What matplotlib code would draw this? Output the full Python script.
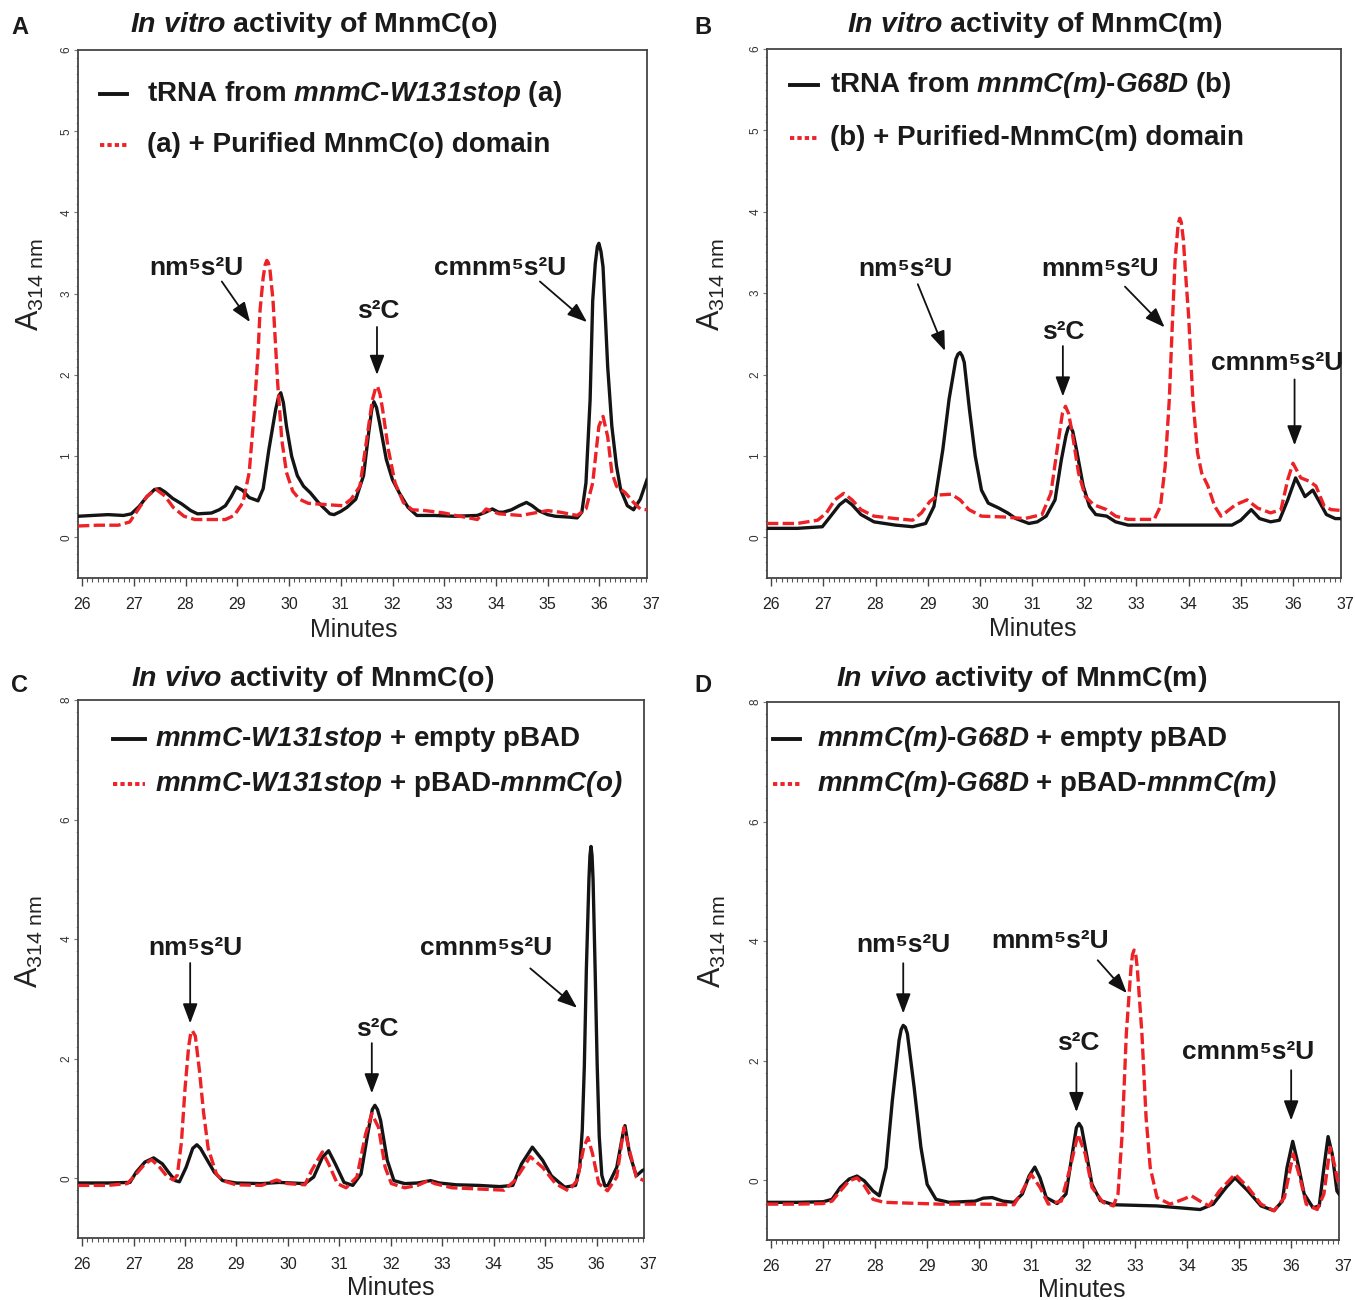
import matplotlib
matplotlib.use("Agg")
import matplotlib.pyplot as plt
import matplotlib.transforms as mtransforms
from matplotlib.lines import Line2D
from matplotlib.ticker import MultipleLocator

# ==============================================================
# Data: (minutes, A314) pairs
# ==============================================================
A_BLACK = [(25.92, 0.26), (26.2, 0.27), (26.5, 0.28), (26.8, 0.27), (26.95, 0.29), (27.1, 0.38),
           (27.25, 0.5), (27.4, 0.59), (27.5, 0.6), (27.6, 0.56), (27.75, 0.48), (27.93, 0.41),
           (28.1, 0.33), (28.23, 0.29), (28.5, 0.3), (28.65, 0.34), (28.77, 0.39), (28.88, 0.5),
           (28.98, 0.62), (29.1, 0.58), (29.23, 0.49), (29.4, 0.45), (29.5, 0.6), (29.61, 1.08),
           (29.74, 1.57), (29.8, 1.74), (29.84, 1.78), (29.89, 1.66), (29.95, 1.37), (30.05, 1.0),
           (30.16, 0.76), (30.28, 0.63), (30.41, 0.55), (30.58, 0.42), (30.79, 0.29), (30.87, 0.28),
           (31.0, 0.32), (31.12, 0.37), (31.29, 0.47), (31.44, 0.76), (31.54, 1.29), (31.6, 1.58),
           (31.64, 1.67), (31.69, 1.6), (31.75, 1.41), (31.88, 0.96), (32.0, 0.71), (32.13, 0.55),
           (32.3, 0.37), (32.47, 0.27), (32.8, 0.27), (33.2, 0.26), (33.64, 0.27), (33.8, 0.31),
           (33.93, 0.35), (34.05, 0.31), (34.14, 0.31), (34.3, 0.34), (34.45, 0.39), (34.59, 0.43),
           (34.7, 0.39), (34.82, 0.33), (35.0, 0.28), (35.15, 0.26), (35.4, 0.25), (35.57, 0.24),
           (35.66, 0.31), (35.74, 0.67), (35.82, 1.69), (35.87, 2.91), (35.92, 3.37), (35.96, 3.58),
           (35.99, 3.62), (36.03, 3.52), (36.07, 3.33), (36.16, 2.1), (36.24, 1.37), (36.33, 0.88),
           (36.41, 0.59), (36.54, 0.39), (36.66, 0.34), (36.79, 0.47), (36.92, 0.71)]

A_RED = [(25.92, 0.14), (26.3, 0.15), (26.7, 0.15), (26.92, 0.19), (27.09, 0.35), (27.26, 0.51),
         (27.43, 0.59), (27.6, 0.51), (27.76, 0.37), (27.97, 0.26), (28.18, 0.22), (28.5, 0.22),
         (28.77, 0.22), (28.94, 0.27), (29.11, 0.43), (29.23, 0.8), (29.32, 1.49), (29.4, 2.27),
         (29.44, 2.8), (29.5, 3.2), (29.54, 3.36), (29.57, 3.41), (29.6, 3.38), (29.63, 3.3),
         (29.69, 2.92), (29.78, 1.9), (29.86, 1.2), (29.95, 0.8), (30.07, 0.57), (30.2, 0.47),
         (30.37, 0.42), (30.79, 0.4), (31.04, 0.39), (31.2, 0.47), (31.37, 0.63), (31.5, 1.2),
         (31.61, 1.69), (31.67, 1.83), (31.71, 1.86), (31.76, 1.76), (31.81, 1.57), (31.92, 1.08),
         (32.05, 0.67), (32.21, 0.43), (32.38, 0.34), (32.63, 0.33), (33.0, 0.3), (33.22, 0.27),
         (33.64, 0.22), (33.81, 0.35), (34.06, 0.29), (34.48, 0.27), (35.0, 0.33), (35.24, 0.31),
         (35.57, 0.27), (35.74, 0.35), (35.87, 0.67), (35.99, 1.37), (36.07, 1.49), (36.16, 1.24),
         (36.24, 0.8), (36.33, 0.63), (36.5, 0.55), (36.66, 0.43), (36.79, 0.35), (36.92, 0.34)]

B_BLACK = [(25.92, 0.11), (26.5, 0.11), (26.98, 0.13), (27.14, 0.26), (27.31, 0.4), (27.43, 0.46),
           (27.55, 0.4), (27.72, 0.28), (27.97, 0.19), (28.38, 0.15), (28.71, 0.13), (28.96, 0.17),
           (29.12, 0.38), (29.29, 1.08), (29.41, 1.7), (29.54, 2.19), (29.58, 2.25), (29.62, 2.27),
           (29.66, 2.23), (29.7, 2.15), (29.8, 1.57), (29.91, 1.0), (30.03, 0.58), (30.16, 0.42),
           (30.36, 0.36), (30.53, 0.3), (30.69, 0.23), (30.94, 0.17), (31.1, 0.19), (31.27, 0.26),
           (31.44, 0.46), (31.56, 0.95), (31.65, 1.25), (31.69, 1.34), (31.73, 1.37), (31.78, 1.3),
           (31.85, 1.08), (31.98, 0.63), (32.1, 0.38), (32.22, 0.28), (32.43, 0.26), (32.6, 0.19),
           (32.84, 0.15), (33.5, 0.15), (34.2, 0.15), (34.83, 0.15), (35.0, 0.21), (35.2, 0.34),
           (35.36, 0.23), (35.57, 0.19), (35.74, 0.21), (35.9, 0.46), (36.05, 0.73), (36.23, 0.5),
           (36.38, 0.58), (36.52, 0.42), (36.64, 0.28), (36.81, 0.23), (36.92, 0.23)]

B_RED = [(25.92, 0.17), (26.5, 0.17), (26.89, 0.21), (27.06, 0.3), (27.22, 0.46), (27.39, 0.54),
         (27.55, 0.46), (27.72, 0.34), (27.97, 0.26), (28.38, 0.23), (28.71, 0.21), (28.88, 0.3),
         (29.04, 0.44), (29.21, 0.52), (29.45, 0.53), (29.62, 0.46), (29.79, 0.34), (30.03, 0.26),
         (30.45, 0.25), (30.86, 0.23), (31.19, 0.28), (31.36, 0.54), (31.48, 1.08), (31.58, 1.52),
         (31.64, 1.61), (31.7, 1.52), (31.77, 1.28), (31.89, 0.79), (32.02, 0.5), (32.18, 0.4),
         (32.43, 0.34), (32.6, 0.26), (32.84, 0.22), (33.34, 0.22), (33.46, 0.38), (33.55, 0.87),
         (33.63, 1.7), (33.68, 2.5), (33.74, 3.4), (33.8, 3.85), (33.83, 3.92), (33.86, 3.87),
         (33.9, 3.65), (33.94, 3.25), (34.0, 2.72), (34.08, 1.7), (34.17, 1.04), (34.25, 0.79),
         (34.37, 0.63), (34.5, 0.38), (34.62, 0.26), (34.74, 0.32), (34.9, 0.4), (35.12, 0.46),
         (35.32, 0.36), (35.57, 0.3), (35.77, 0.34), (35.9, 0.71), (36.0, 0.91), (36.15, 0.73),
         (36.31, 0.69), (36.44, 0.63), (36.6, 0.38), (36.73, 0.34), (36.92, 0.33)]

C_BLACK = [(25.92, -0.08), (26.5, -0.08), (26.93, -0.07), (27.05, 0.1), (27.22, 0.27), (27.39, 0.34),
           (27.56, 0.24), (27.68, 0.1), (27.81, -0.04), (27.89, -0.06), (28.02, 0.18), (28.15, 0.5),
           (28.23, 0.56), (28.3, 0.5), (28.4, 0.35), (28.57, 0.1), (28.73, -0.04), (28.99, -0.08),
           (29.49, -0.09), (29.83, -0.07), (30.33, -0.09), (30.5, 0.02), (30.67, 0.35), (30.79, 0.46),
           (30.92, 0.24), (31.09, -0.07), (31.26, -0.12), (31.42, 0.07), (31.55, 0.74), (31.64, 1.15),
           (31.69, 1.22), (31.74, 1.15), (31.8, 0.97), (31.93, 0.3), (32.06, -0.04), (32.27, -0.09),
           (32.52, -0.08), (32.77, -0.04), (32.94, -0.08), (33.27, -0.11), (33.7, -0.12), (34.12, -0.14),
           (34.37, -0.12), (34.54, 0.24), (34.75, 0.52), (34.95, 0.3), (35.12, 0.04), (35.38, -0.15),
           (35.59, -0.12), (35.67, 0.18), (35.72, 0.8), (35.76, 1.86), (35.8, 3.5), (35.85, 5.0),
           (35.87, 5.4), (35.89, 5.55), (35.91, 5.4), (35.93, 5.0), (35.97, 3.5), (36.01, 1.9),
           (36.05, 0.7), (36.1, 0.05), (36.16, -0.13), (36.22, -0.12), (36.39, 0.18), (36.51, 0.74),
           (36.55, 0.88), (36.64, 0.41), (36.77, 0.04), (36.89, 0.13), (36.92, 0.14)]

C_RED = [(25.92, -0.12), (26.5, -0.12), (26.88, -0.09), (27.05, 0.07), (27.22, 0.24), (27.35, 0.31),
         (27.51, 0.18), (27.64, 0.04), (27.77, -0.03), (27.85, 0.05), (27.93, 0.6), (28.0, 1.5),
         (28.07, 2.2), (28.11, 2.42), (28.14, 2.47), (28.2, 2.38), (28.28, 1.8), (28.36, 1.1),
         (28.45, 0.5), (28.61, 0.07), (28.73, -0.04), (28.99, -0.11), (29.49, -0.12), (29.78, -0.03),
         (29.99, -0.09), (30.33, -0.11), (30.46, 0.13), (30.67, 0.44), (30.79, 0.24), (30.96, -0.09),
         (31.13, -0.16), (31.34, 0.02), (31.51, 0.74), (31.63, 1.08), (31.76, 0.85), (31.89, 0.18),
         (32.01, -0.09), (32.27, -0.16), (32.52, -0.12), (32.73, -0.04), (32.85, -0.09), (33.19, -0.16),
         (33.7, -0.18), (34.2, -0.2), (34.41, -0.04), (34.71, 0.36), (34.95, 0.18), (35.2, -0.09),
         (35.45, -0.21), (35.62, -0.04), (35.75, 0.52), (35.83, 0.68), (35.92, 0.41), (36.04, -0.09),
         (36.21, -0.21), (36.39, 0.02), (36.53, 0.85), (36.64, 0.46), (36.77, 0.02), (36.92, -0.04)]

D_BLACK = [(25.92, -0.37), (26.5, -0.37), (27.0, -0.36), (27.17, -0.32), (27.33, -0.12), (27.5, 0.02),
           (27.65, 0.07), (27.79, -0.01), (27.96, -0.18), (28.08, -0.26), (28.21, 0.21), (28.33, 1.33),
           (28.46, 2.34), (28.5, 2.52), (28.54, 2.59), (28.58, 2.56), (28.62, 2.45), (28.75, 1.55),
           (28.88, 0.55), (29.0, -0.07), (29.17, -0.32), (29.42, -0.37), (29.92, -0.35), (30.08, -0.3),
           (30.25, -0.29), (30.46, -0.35), (30.67, -0.37), (30.83, -0.23), (30.96, 0.07), (31.07, 0.22),
           (31.17, 0.04), (31.29, -0.29), (31.5, -0.39), (31.67, -0.23), (31.79, 0.44), (31.87, 0.88),
           (31.92, 0.95), (31.97, 0.88), (32.04, 0.55), (32.17, -0.07), (32.33, -0.34), (32.58, -0.41),
           (33.42, -0.43), (34.25, -0.49), (34.5, -0.4), (34.75, -0.12), (34.92, 0.04), (35.17, -0.18),
           (35.42, -0.43), (35.67, -0.51), (35.83, -0.35), (35.92, 0.21), (36.03, 0.65), (36.12, 0.32),
           (36.25, -0.23), (36.42, -0.46), (36.54, -0.43), (36.63, 0.21), (36.71, 0.73), (36.79, 0.44),
           (36.88, -0.18), (36.92, -0.23)]

D_RED = [(25.92, -0.4), (26.5, -0.4), (27.0, -0.39), (27.17, -0.35), (27.33, -0.18), (27.5, -0.01),
         (27.65, 0.04), (27.79, -0.09), (27.96, -0.32), (28.17, -0.37), (29.25, -0.4), (30.08, -0.4),
         (30.67, -0.41), (30.83, -0.18), (31.0, 0.1), (31.17, -0.12), (31.33, -0.4), (31.58, -0.35),
         (31.75, 0.21), (31.9, 0.77), (32.04, 0.44), (32.17, -0.12), (32.38, -0.37), (32.58, -0.43),
         (32.67, -0.23), (32.75, 0.77), (32.83, 2.45), (32.92, 3.56), (32.95, 3.78), (32.98, 3.85),
         (33.01, 3.78), (33.04, 3.56), (33.13, 2.45), (33.21, 1.05), (33.29, 0.21), (33.42, -0.29),
         (33.67, -0.4), (33.92, -0.32), (34.08, -0.26), (34.25, -0.35), (34.42, -0.43), (34.62, -0.18),
         (34.92, 0.1), (35.17, -0.12), (35.42, -0.4), (35.67, -0.51), (35.87, -0.29), (36.04, 0.44),
         (36.17, 0.04), (36.29, -0.4), (36.5, -0.49), (36.63, -0.23), (36.75, 0.55), (36.83, 0.27),
         (36.92, -0.12)]

# ==============================================================
# Text
# ==============================================================
NM = "nm\u2075s\u00b2U"
MNM = "m" + NM
CMNM = "cm" + NM
S2C = "s\u00b2C"

TITLES = [r"$\mathbfit{In\ vitro}$ activity of MnmC(o)",
          r"$\mathbfit{In\ vitro}$ activity of MnmC(m)",
          r"$\mathbfit{In\ vivo}$ activity of MnmC(o)",
          r"$\mathbfit{In\ vivo}$ activity of MnmC(m)"]

LEGENDS = [(r"tRNA from $\mathbfit{mnmC}$-$\mathbfit{W131stop}$ (a)",
            "(a) + Purified MnmC(o) domain"),
           (r"tRNA from $\mathbfit{mnmC(m)}$-$\mathbfit{G68D}$ (b)",
            "(b) + Purified-MnmC(m) domain"),
           (r"$\mathbfit{mnmC}$-$\mathbfit{W131stop}$ + empty pBAD",
            r"$\mathbfit{mnmC}$-$\mathbfit{W131stop}$ + pBAD-$\mathbfit{mnmC(o)}$"),
           (r"$\mathbfit{mnmC(m)}$-$\mathbfit{G68D}$ + empty pBAD",
            r"$\mathbfit{mnmC(m)}$-$\mathbfit{G68D}$ + pBAD-$\mathbfit{mnmC(m)}$")]

LETTERS = ["A", "B", "C", "D"]

# ==============================================================
# Layout (pixels, top-left origin)
# ==============================================================
W, H = 1355, 1300
RED = "#ec2227"
BLACK = "#141414"
FONT = "Liberation Sans"

plt.rcParams["font.family"] = [FONT, "DejaVu Sans"]
plt.rcParams["mathtext.fontset"] = "custom"
plt.rcParams["mathtext.rm"] = FONT
plt.rcParams["mathtext.it"] = FONT + ":italic"
plt.rcParams["mathtext.bf"] = FONT + ":bold"
plt.rcParams["mathtext.bfit"] = FONT + ":italic:bold"

# axes box: left, top, right, bottom
BOXES = [(78, 50, 647, 578), (767, 49, 1341, 578), (78, 700, 644, 1238), (767, 702, 1339, 1240)]
TITLE_POS = [(314, 25), (1035, 25), (313, 679), (1022, 679)]
LETTER_POS = [(20, 27), (703, 27), (20, 686), (703, 686)]
# handle x0, x1, text x, row y's
LEG_POS = [(100, 127, 147, 94, 145), (790, 818, 830, 85, 138),
           (113, 145, 155, 739, 784), (773, 800, 817, 739, 784)]
XLABEL_POS = [(0.485, -0.098), (0.463, -0.097), (0.553, -0.093), (0.551, -0.093)]
YLABEL_POS = [(-0.084, 0.555), (-0.096, 0.554), (-0.085, 0.55), (-0.096, 0.554)]

# peak labels: text, text position, arrow tail, arrow head (data coords)
ANNOTS = [
    [(NM, (28.20, 3.32), (28.70, 3.15), (29.245, 2.65)),
     (S2C, (31.72, 2.79), (31.70, 2.59), (31.70, 2.0)),
     (CMNM, (34.08, 3.32), (34.85, 3.15), (35.76, 2.65))],
    [(NM, (28.58, 3.30), (28.81, 3.11), (29.33, 2.29)),
     (MNM, (32.30, 3.30), (32.78, 3.08), (33.54, 2.58)),
     (S2C, (31.59, 2.52), (31.59, 2.35), (31.59, 1.73)),
     (CMNM, (35.69, 2.14), (36.03, 1.94), (36.03, 1.13))],
    [(NM, (28.21, 3.85), (28.10, 3.60), (28.10, 2.59)),
     (S2C, (31.73, 2.49), (31.63, 2.26), (31.63, 1.42)),
     (CMNM, (33.85, 3.85), (34.71, 3.51), (35.62, 2.85))],
    [(NM, (28.54, 3.93), (28.54, 3.63), (28.54, 2.79)),
     (MNM, (31.37, 4.0), (32.28, 3.68), (32.84, 3.13)),
     (S2C, (31.91, 2.29), (31.87, 1.96), (31.87, 1.14)),
     (CMNM, (35.17, 2.14), (36.0, 1.84), (36.0, 1.0))],
]

TRACES = [(A_BLACK, A_RED), (B_BLACK, B_RED), (C_BLACK, C_RED), (D_BLACK, D_RED)]
YLIMS = [(-0.5, 6), (-0.5, 6), (-1, 8), (-1, 8)]
YSTEPS = [(1, 0.1), (1, 0.1), (2, 0.2), (2, 0.2)]
XLIM = (25.92, 36.92)
TICK_LEN, TICK_PAD = 6, 8


def fx(px):
    return px / W


def fy(py):
    return 1 - py / H


# ==============================================================
# Plot
# ==============================================================
fig = plt.figure(figsize=(W / 100, H / 100), dpi=100)

for i in range(4):
    l, t, r, b = BOXES[i]
    ax = fig.add_axes([fx(l), fy(b), (r - l) / W, (b - t) / H])

    black, red = TRACES[i]
    tb, vb = zip(*black)
    tr, vr = zip(*red)
    ax.plot(tb, vb, color=BLACK, lw=2.4, solid_joinstyle="round", zorder=3)
    ax.plot(tr, vr, color=RED, lw=2.4, dashes=(3.4, 1.3), zorder=4)

    ax.set_xlim(*XLIM)
    ax.set_ylim(*YLIMS[i])
    ax.xaxis.set_major_locator(MultipleLocator(1))
    ax.xaxis.set_minor_locator(MultipleLocator(0.1))
    ax.yaxis.set_major_locator(MultipleLocator(YSTEPS[i][0]))
    ax.yaxis.set_minor_locator(MultipleLocator(YSTEPS[i][1]))
    ax.tick_params(axis="x", which="major", length=TICK_LEN, width=1.0, pad=TICK_PAD,
                   labelsize=11.5, color="#444444", labelcolor="#222222")
    ax.tick_params(axis="x", which="minor", length=3, width=0.8, color="#555555")
    ax.tick_params(axis="y", which="major", length=3, width=0.8, pad=1,
                   labelsize=8.5, color="#777777", labelcolor="#333333")
    ax.tick_params(axis="y", which="minor", length=1.5, width=0.6, color="#999999")
    for lab in ax.get_yticklabels():
        lab.set_rotation(90)
        lab.set_va("center")
    for s in ax.spines.values():
        s.set_color("#444444")
        s.set_linewidth(1.3)

    # the last minute label sits just past the right edge of the frame
    lab_tr = mtransforms.blended_transform_factory(ax.transData, ax.transAxes) + \
        mtransforms.ScaledTranslation(0, -(TICK_LEN + TICK_PAD) / 72, fig.dpi_scale_trans)
    ax.text(37, 0, "37", transform=lab_tr, ha="center", va="top", fontsize=11.5,
            color="#222222", clip_on=False)

    ax.text(*XLABEL_POS[i], "Minutes", transform=ax.transAxes, ha="center", va="center",
            fontsize=18, color="#222222")
    ax.text(*YLABEL_POS[i], r"A$_{\mathregular{314\ nm}}$", transform=ax.transAxes,
            rotation=90, ha="center", va="center", fontsize=22, color="#222222")

    for label, tpos, tail, head in ANNOTS[i]:
        ax.text(*tpos, label, ha="center", va="center", fontsize=19,
                fontweight="bold", color="#1a1a1a", zorder=6)
        ax.annotate("", xy=head, xytext=tail,
                    arrowprops=dict(arrowstyle="-|>,head_length=0.8,head_width=0.3",
                                    mutation_scale=15, lw=1.3, color="#111111",
                                    shrinkA=0, shrinkB=0), zorder=6)

    # titles, panel letters, legends
    fig.text(fx(TITLE_POS[i][0]), fy(TITLE_POS[i][1]), TITLES[i], ha="center", va="center",
             fontsize=20.5, fontweight="bold", color="#1a1a1a")
    fig.text(fx(LETTER_POS[i][0]), fy(LETTER_POS[i][1]), LETTERS[i], ha="center", va="center",
             fontsize=17, fontweight="bold", color="#1a1a1a")

    x0, x1, xt, y1, y2 = LEG_POS[i]
    fig.add_artist(Line2D([fx(x0), fx(x1)], [fy(y1), fy(y1)], color=BLACK, lw=2.8))
    fig.add_artist(Line2D([fx(x0), fx(x1)], [fy(y2), fy(y2)], color=RED, lw=2.8,
                          dashes=(1.1, 0.8)))
    fig.text(fx(xt), fy(y1), LEGENDS[i][0], ha="left", va="center", fontsize=20,
             fontweight="bold", color="#1a1a1a")
    fig.text(fx(xt), fy(y2), LEGENDS[i][1], ha="left", va="center", fontsize=20,
             fontweight="bold", color="#1a1a1a")

fig.savefig("out.png", dpi=100)
